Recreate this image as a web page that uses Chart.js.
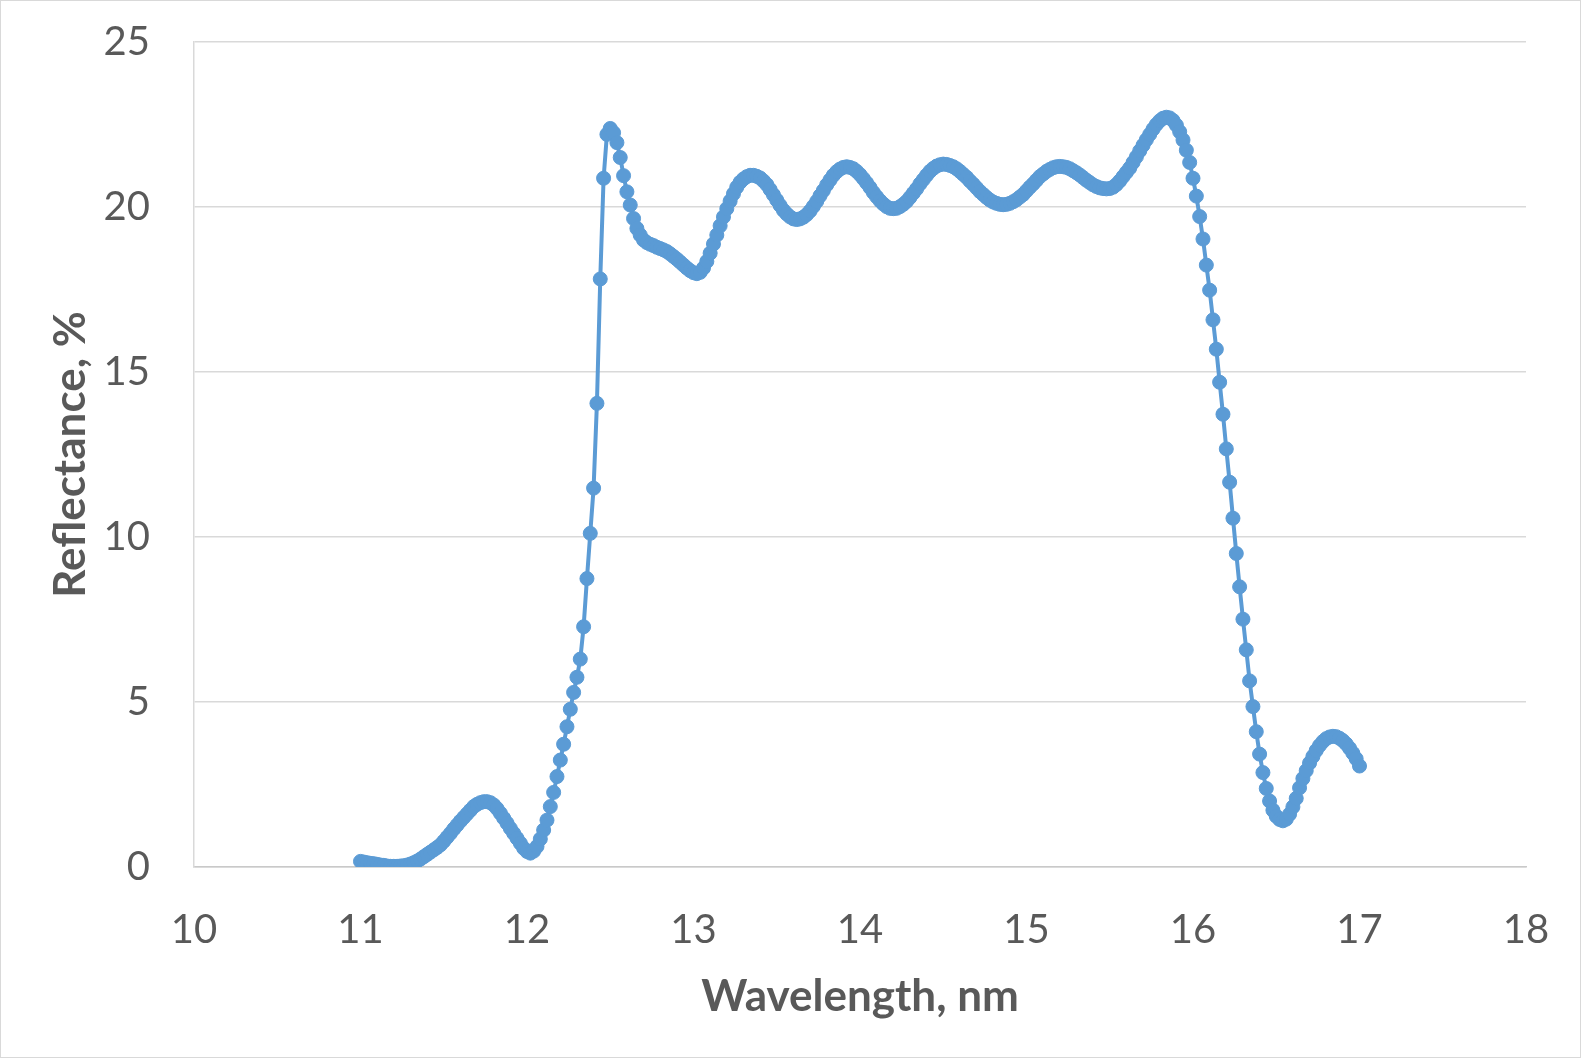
<!DOCTYPE html>
<html>
<head>
<meta charset="utf-8">
<script src="https://cdn.jsdelivr.net/npm/chart.js@4"></script>
<style>
  body { margin: 0; background: #fff; }
  canvas { display: block; }
</style>
</head>
<body>
<canvas id="reflChart" width="1581" height="1058"></canvas>
<script>
// wavelength, nm (one reading every 0.02 nm)
const wavelength = [
  11.00, 11.02, 11.04, 11.06, 11.08, 11.10, 11.12, 11.14, 11.16, 11.18,
  11.20, 11.22, 11.24, 11.26, 11.28, 11.30, 11.32, 11.34, 11.36, 11.38,
  11.40, 11.42, 11.44, 11.46, 11.48, 11.50, 11.52, 11.54, 11.56, 11.58,
  11.60, 11.62, 11.64, 11.66, 11.68, 11.70, 11.72, 11.74, 11.76, 11.78,
  11.80, 11.82, 11.84, 11.86, 11.88, 11.90, 11.92, 11.94, 11.96, 11.98,
  12.00, 12.02, 12.04, 12.06, 12.08, 12.10, 12.12, 12.14, 12.16, 12.18,
  12.20, 12.22, 12.24, 12.26, 12.28, 12.30, 12.32, 12.34, 12.36, 12.38,
  12.40, 12.42, 12.44, 12.46, 12.48, 12.50, 12.52, 12.54, 12.56, 12.58,
  12.60, 12.62, 12.64, 12.66, 12.68, 12.70, 12.72, 12.74, 12.76, 12.78,
  12.80, 12.82, 12.84, 12.86, 12.88, 12.90, 12.92, 12.94, 12.96, 12.98,
  13.00, 13.02, 13.04, 13.06, 13.08, 13.10, 13.12, 13.14, 13.16, 13.18,
  13.20, 13.22, 13.24, 13.26, 13.28, 13.30, 13.32, 13.34, 13.36, 13.38,
  13.40, 13.42, 13.44, 13.46, 13.48, 13.50, 13.52, 13.54, 13.56, 13.58,
  13.60, 13.62, 13.64, 13.66, 13.68, 13.70, 13.72, 13.74, 13.76, 13.78,
  13.80, 13.82, 13.84, 13.86, 13.88, 13.90, 13.92, 13.94, 13.96, 13.98,
  14.00, 14.02, 14.04, 14.06, 14.08, 14.10, 14.12, 14.14, 14.16, 14.18,
  14.20, 14.22, 14.24, 14.26, 14.28, 14.30, 14.32, 14.34, 14.36, 14.38,
  14.40, 14.42, 14.44, 14.46, 14.48, 14.50, 14.52, 14.54, 14.56, 14.58,
  14.60, 14.62, 14.64, 14.66, 14.68, 14.70, 14.72, 14.74, 14.76, 14.78,
  14.80, 14.82, 14.84, 14.86, 14.88, 14.90, 14.92, 14.94, 14.96, 14.98,
  15.00, 15.02, 15.04, 15.06, 15.08, 15.10, 15.12, 15.14, 15.16, 15.18,
  15.20, 15.22, 15.24, 15.26, 15.28, 15.30, 15.32, 15.34, 15.36, 15.38,
  15.40, 15.42, 15.44, 15.46, 15.48, 15.50, 15.52, 15.54, 15.56, 15.58,
  15.60, 15.62, 15.64, 15.66, 15.68, 15.70, 15.72, 15.74, 15.76, 15.78,
  15.80, 15.82, 15.84, 15.86, 15.88, 15.90, 15.92, 15.94, 15.96, 15.98,
  16.00, 16.02, 16.04, 16.06, 16.08, 16.10, 16.12, 16.14, 16.16, 16.18,
  16.20, 16.22, 16.24, 16.26, 16.28, 16.30, 16.32, 16.34, 16.36, 16.38,
  16.40, 16.42, 16.44, 16.46, 16.48, 16.50, 16.52, 16.54, 16.56, 16.58,
  16.60, 16.62, 16.64, 16.66, 16.68, 16.70, 16.72, 16.74, 16.76, 16.78,
  16.80, 16.82, 16.84, 16.86, 16.88, 16.90, 16.92, 16.94, 16.96, 16.98,
  17.00
];

// reflectance, %
const reflectance = [
  0.17, 0.15, 0.13, 0.11, 0.10, 0.08, 0.06, 0.05, 0.03, 0.02,
  0.02, 0.02, 0.03, 0.04, 0.06, 0.09, 0.13, 0.18, 0.24, 0.31,
  0.38, 0.45, 0.52, 0.59, 0.67, 0.78, 0.90, 1.02, 1.15, 1.27,
  1.39, 1.50, 1.61, 1.72, 1.83, 1.90, 1.95, 1.98, 1.98, 1.95,
  1.88, 1.77, 1.63, 1.48, 1.33, 1.17, 1.02, 0.87, 0.72, 0.57,
  0.47, 0.42, 0.48, 0.62, 0.85, 1.12, 1.42, 1.83, 2.26, 2.74,
  3.24, 3.72, 4.25, 4.78, 5.29, 5.75, 6.30, 7.28, 8.74, 10.11,
  11.48, 14.05, 17.82, 20.87, 22.20, 22.38, 22.25, 21.95, 21.50, 20.95,
  20.46, 20.06, 19.65, 19.35, 19.15, 19.00, 18.92, 18.87, 18.83, 18.78,
  18.74, 18.70, 18.65, 18.58, 18.50, 18.42, 18.33, 18.24, 18.15, 18.07,
  18.01, 17.98, 18.02, 18.15, 18.35, 18.60, 18.88, 19.15, 19.43, 19.70,
  19.95, 20.18, 20.40, 20.60, 20.75, 20.85, 20.92, 20.96, 20.96, 20.93,
  20.88, 20.79, 20.68, 20.53, 20.37, 20.21, 20.05, 19.90, 19.79, 19.70,
  19.64, 19.62, 19.64, 19.69, 19.77, 19.88, 20.02, 20.17, 20.34, 20.50,
  20.67, 20.82, 20.96, 21.07, 21.15, 21.20, 21.22, 21.20, 21.16, 21.08,
  20.98, 20.86, 20.73, 20.59, 20.44, 20.31, 20.19, 20.09, 20.01, 19.96,
  19.95, 19.96, 20.01, 20.08, 20.17, 20.29, 20.42, 20.55, 20.70, 20.83,
  20.96, 21.08, 21.17, 21.24, 21.28, 21.30, 21.29, 21.26, 21.22, 21.16,
  21.08, 20.99, 20.90, 20.79, 20.69, 20.58, 20.47, 20.38, 20.29, 20.21,
  20.15, 20.11, 20.08, 20.07, 20.08, 20.11, 20.16, 20.22, 20.30, 20.38,
  20.49, 20.60, 20.70, 20.81, 20.92, 21.00, 21.08, 21.14, 21.19, 21.22,
  21.23, 21.22, 21.20, 21.16, 21.10, 21.04, 20.97, 20.89, 20.81, 20.74,
  20.67, 20.62, 20.58, 20.56, 20.55, 20.56, 20.60, 20.68, 20.79, 20.92,
  21.05, 21.18, 21.35, 21.52, 21.70, 21.87, 22.04, 22.20, 22.36, 22.50,
  22.61, 22.69, 22.72, 22.70, 22.62, 22.48, 22.28, 22.03, 21.72, 21.35,
  20.87, 20.33, 19.71, 19.03, 18.24, 17.48, 16.58, 15.69, 14.69, 13.72,
  12.67, 11.66, 10.57, 9.50, 8.49, 7.51, 6.58, 5.64, 4.86, 4.10,
  3.42, 2.86, 2.38, 2.00, 1.72, 1.54, 1.44, 1.40, 1.45, 1.60,
  1.82, 2.08, 2.40, 2.68, 2.92, 3.15, 3.35, 3.53, 3.68, 3.80,
  3.89, 3.94, 3.96, 3.95, 3.90, 3.83, 3.73, 3.60, 3.45, 3.28,
  3.06
];

const xTicks = [10, 11, 12, 13, 14, 15, 16, 17, 18];
const yTicks = [0, 5, 10, 15, 20, 25];

const BLUE = "#5b9bd5";
const GRID = "#d9d9d9";
const TEXT = "#595959";

// white page + thin grey frame round the whole picture
const framePlugin = {
  id: "frame",
  beforeDraw(chart) {
    const ctx = chart.ctx;
    ctx.save();
    ctx.fillStyle = "#fff";
    ctx.fillRect(0, 0, chart.width, chart.height);
    ctx.strokeStyle = GRID;
    ctx.lineWidth = 1;
    ctx.strokeRect(0.5, 0.5, chart.width - 1, chart.height - 1);
    ctx.restore();
  },
};

const points = wavelength.map((w, i) => ({ x: w, y: reflectance[i] }));

// label gaps are made with invisible tick marks, so the tick padding
// does not push the plot area in
new Chart(document.getElementById("reflChart"), {
  type: "scatter",
  data: {
    datasets: [
      {
        label: "Reflectance",
        data: points,
        showLine: true,
        borderColor: BLUE,
        borderWidth: 4,
        backgroundColor: BLUE,
        pointRadius: 7,
        pointBorderWidth: 1,
        pointBorderColor: BLUE,
        pointBackgroundColor: BLUE,
      },
    ],
  },
  options: {
    responsive: false,
    animation: false,
    devicePixelRatio: 1,
    layout: { padding: { top: 42, right: 55, left: 0, bottom: 0 } },
    plugins: { legend: { display: false }, tooltip: { enabled: false } },
    scales: {
      x: {
        type: "linear",
        min: 10,
        max: 18,
        afterBuildTicks: (s) => { s.ticks = xTicks.map((v) => ({ value: v })); },
        afterFit: (s) => { s.height = 191; },
        grid: { display: false, drawTicks: true, tickLength: 39, tickColor: "rgba(0,0,0,0)" },
        border: { display: true, color: "#c9c9c9", width: 1.5 },
        ticks: {
          padding: 0,
          color: TEXT,
          font: { family: "Lato", size: 40 },
          maxRotation: 0,
        },
        title: {
          display: true,
          text: "Wavelength, nm",
          color: TEXT,
          font: { family: "Lato", size: 44, weight: "bold" },
          padding: { top: 0, bottom: 35 },
        },
      },
      y: {
        min: 0,
        max: 25,
        afterBuildTicks: (s) => { s.ticks = yTicks.map((v) => ({ value: v })); },
        afterFit: (s) => { s.width = 194; },
        grid: { color: GRID, lineWidth: 1.5, drawTicks: true, tickLength: 44, tickColor: "rgba(0,0,0,0)" },
        border: { display: true, color: GRID, width: 1.5 },
        ticks: {
          padding: 0,
          color: TEXT,
          font: { family: "Lato", size: 40 },
        },
        title: {
          display: true,
          text: "Reflectance, %",
          color: TEXT,
          font: { family: "Lato", size: 44, weight: "bold" },
          padding: { top: 44, bottom: 0 },
        },
      },
    },
  },
  plugins: [framePlugin],
});
</script>
</body>
</html>
